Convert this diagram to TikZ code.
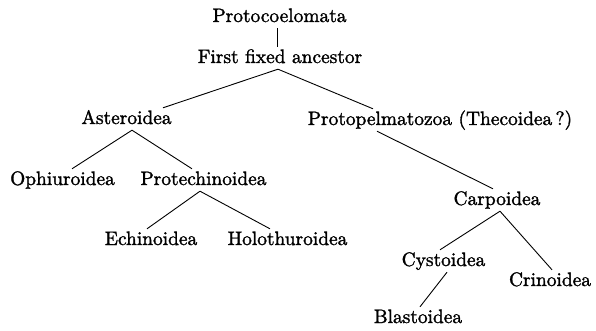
\documentclass[tikz,border=0pt]{standalone}
\usepackage{fontspec}
\setmainfont{lmroman10-regular.otf}[FakeBold=1.5]
\usepackage{tikz}
\usetikzlibrary{positioning}
\tikzset{
  taxon/.style={anchor=base, inner sep=2pt, text height=14pt, text depth=4pt, font=\fontsize{19.4}{23}\selectfont},
  branch/.style={line width=0.9pt}
}
\begin{document}
\begin{tikzpicture}[x=1pt, y=-1pt]
  \useasboundingbox (0,0) rectangle (596,331);
  \node[taxon] (proto) at (279.5,22) {Protocoelomata};
  \node[taxon] (ffa) at (280,63) {First fixed ancestor};
  \node[taxon] (ast) at (126.5,124) {Asteroidea};
  \node[taxon] (ppz) at (440,125) {Protopelmatozoa (Thecoidea\,?)};
  \node[taxon] (oph) at (62.5,185) {Ophiuroidea};
  \node[taxon] (pech) at (203.5,185) {Protechinoidea};
  \node[taxon] (ech) at (151,245) {Echinoidea};
  \node[taxon] (hol) at (287.5,245) {Holothuroidea};
  \node[taxon] (carp) at (497,205) {Carpoidea};
  \node[taxon] (cyst) at (443.5,266) {Cystoidea};
  \node[taxon] (crin) at (550,286) {Crinoidea};
  \node[taxon] (blast) at (418,323) {Blastoidea};
  \draw[branch] ([xshift=-2.5pt]proto.south) -- ([xshift=-3pt]ffa.north);
  \draw[branch] ([xshift=-2pt]ffa.south) -- ([xshift=36.5pt]ast.north);
  \draw[branch] ([xshift=-2pt]ffa.south) -- ([xshift=-67pt]ppz.north);
  \draw[branch] ([xshift=5.5pt]ast.south) -- ([xshift=9.5pt]oph.north);
  \draw[branch] ([xshift=5.5pt]ast.south) -- ([xshift=-11.5pt]pech.north);
  \draw[branch] ([xshift=-63pt]ppz.south) -- ([xshift=-4pt]carp.north);
  \draw[branch] ([xshift=-3.5pt]pech.south) -- ([xshift=-4pt]ech.north);
  \draw[branch] ([xshift=-3.5pt]pech.south) -- ([xshift=-17.5pt]hol.north);
  \draw[branch] ([xshift=3pt]carp.south) -- ([xshift=-3.5pt]cyst.north);
  \draw[branch] ([xshift=3pt]carp.south) -- ([xshift=2pt]crin.north);
  \draw[branch] ([xshift=3.5pt]cyst.south) -- ([xshift=2pt]blast.north);
\end{tikzpicture}
\end{document}
